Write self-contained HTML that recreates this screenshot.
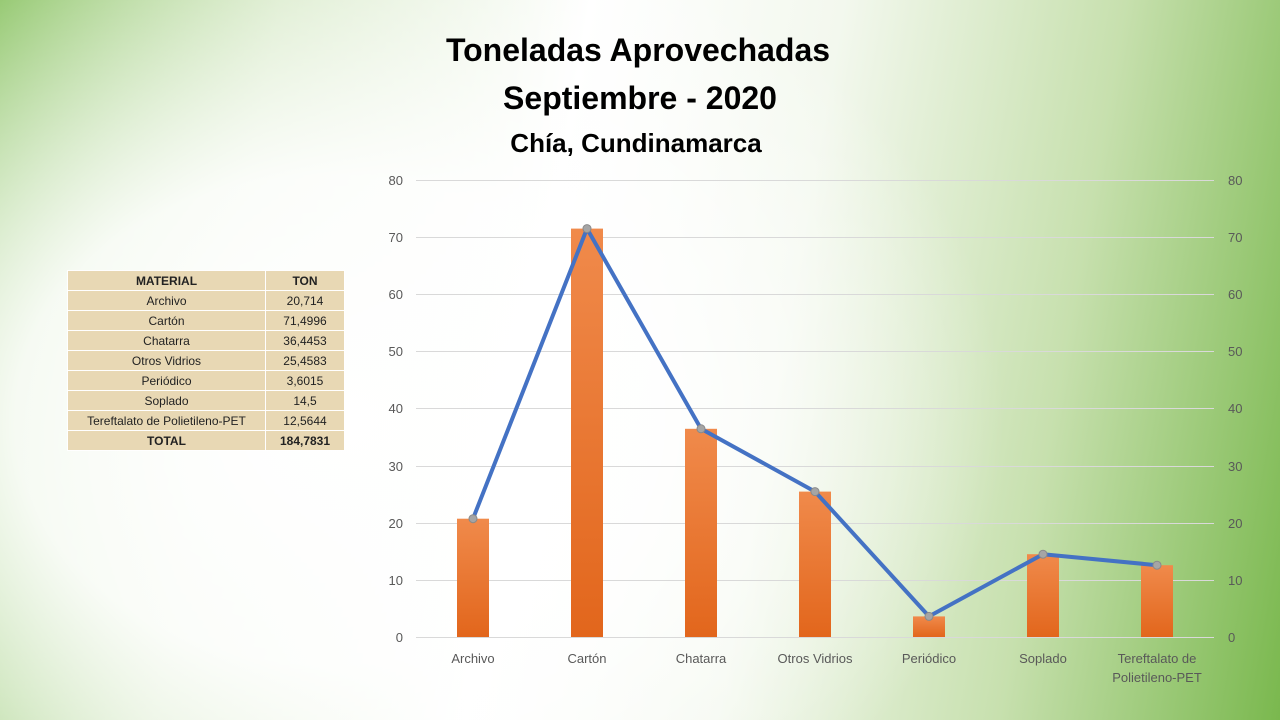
<!DOCTYPE html>
<html><head><meta charset="utf-8"><style>
body{margin:0;width:1280px;height:720px;overflow:hidden;font-family:"Liberation Sans",sans-serif;
background:
radial-gradient(ellipse 900px 700px at 330px 420px,#ffffff 0%,rgba(255,255,255,0.9) 35%,rgba(255,255,255,0) 75%),
linear-gradient(100deg,#8cc465 0%,#d4e8c3 20%,#ffffff 42%,#f3f8ee 60%,#c7e0ae 80%,#7ab84e 100%);}
.t{position:absolute;left:0;width:1280px;text-align:center;font-weight:bold;color:#000}
table{position:absolute;left:67px;top:270px;border-collapse:collapse;font-size:12px;background:#e8d8b4}
td{border:1px solid #fff;height:19px;padding:0;text-align:center;color:#222}
</style></head><body>
<div class="t" style="top:32px;font-size:32px;left:-2px">Toneladas Aprovechadas</div>
<div class="t" style="top:80px;font-size:32px">Septiembre - 2020</div>
<div class="t" style="top:128px;font-size:26px;left:-4px">Chía, Cundinamarca</div>
<table>
<tr><td style="width:197px;font-weight:bold">MATERIAL</td><td style="width:78px;font-weight:bold">TON</td></tr>
<tr><td>Archivo</td><td>20,714</td></tr>
<tr><td>Cartón</td><td>71,4996</td></tr>
<tr><td>Chatarra</td><td>36,4453</td></tr>
<tr><td>Otros Vidrios</td><td>25,4583</td></tr>
<tr><td>Periódico</td><td>3,6015</td></tr>
<tr><td>Soplado</td><td>14,5</td></tr>
<tr><td>Tereftalato de Polietileno-PET</td><td>12,5644</td></tr>
<tr><td style="font-weight:bold">TOTAL</td><td style="font-weight:bold">184,7831</td></tr>
</table>
<svg width="1280" height="720" style="position:absolute;left:0;top:0" font-family="Liberation Sans, sans-serif">
<defs><linearGradient id="g" x1="0" y1="0" x2="0" y2="1"><stop offset="0" stop-color="#f08a4b"/><stop offset="1" stop-color="#e2661c"/></linearGradient></defs>
<g stroke="#d9d9d9" stroke-width="1">
<line x1="416" x2="1214" y1="180.5" y2="180.5"/><line x1="416" x2="1214" y1="237.5" y2="237.5"/>
<line x1="416" x2="1214" y1="294.5" y2="294.5"/><line x1="416" x2="1214" y1="351.5" y2="351.5"/>
<line x1="416" x2="1214" y1="408.5" y2="408.5"/><line x1="416" x2="1214" y1="466.5" y2="466.5"/>
<line x1="416" x2="1214" y1="523.5" y2="523.5"/><line x1="416" x2="1214" y1="580.5" y2="580.5"/>
<line x1="416" x2="1214" y1="637.5" y2="637.5"/></g>
<g font-size="13" fill="#595959">
<g text-anchor="end"><text x="403" y="185">80</text><text x="403" y="242">70</text><text x="403" y="299">60</text><text x="403" y="356">50</text><text x="403" y="413">40</text><text x="403" y="471">30</text><text x="403" y="528">20</text><text x="403" y="585">10</text><text x="403" y="642">0</text></g>
<g><text x="1228" y="185">80</text><text x="1228" y="242">70</text><text x="1228" y="299">60</text><text x="1228" y="356">50</text><text x="1228" y="413">40</text><text x="1228" y="471">30</text><text x="1228" y="528">20</text><text x="1228" y="585">10</text><text x="1228" y="642">0</text></g>
<g text-anchor="middle"><text x="473" y="663">Archivo</text><text x="587" y="663">Cartón</text><text x="701" y="663">Chatarra</text><text x="815" y="663">Otros Vidrios</text><text x="929" y="663">Periódico</text><text x="1043" y="663">Soplado</text><text x="1157" y="663">Tereftalato de</text><text x="1157" y="682">Polietileno-PET</text></g>
</g>
<g fill="url(#g)">
<rect x="457" y="518.7" width="32" height="118.3"/><rect x="571" y="228.6" width="32" height="408.4"/>
<rect x="685" y="428.8" width="32" height="208.2"/><rect x="799" y="491.6" width="32" height="145.4"/>
<rect x="913" y="616.4" width="32" height="20.6"/><rect x="1027" y="554.2" width="32" height="82.8"/>
<rect x="1141" y="565.2" width="32" height="71.8"/></g>
<polyline fill="none" stroke="#4472c4" stroke-width="4" stroke-linejoin="round" points="473,518.7 587,228.6 701,428.8 815,491.6 929,616.4 1043,554.2 1157,565.2"/>
<g fill="#a5a5a5" stroke="#8a8a8a" stroke-width="1">
<circle cx="473" cy="518.7" r="4"/><circle cx="587" cy="228.6" r="4"/><circle cx="701" cy="428.8" r="4"/><circle cx="815" cy="491.6" r="4"/><circle cx="929" cy="616.4" r="4"/><circle cx="1043" cy="554.2" r="4"/><circle cx="1157" cy="565.2" r="4"/></g>
</svg>
</body></html>
